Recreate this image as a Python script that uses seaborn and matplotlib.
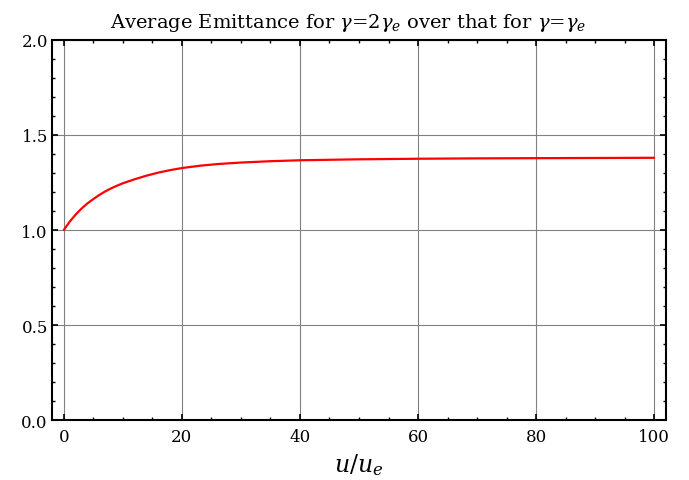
import matplotlib
matplotlib.use("Agg")
import matplotlib.pyplot as plt
from matplotlib.ticker import MultipleLocator
import pandas as pd
import seaborn as sns

# Ratio of average emittance (gamma = 2 gamma_e) to that at gamma = gamma_e
u_over_ue = [0, 1, 2, 3, 4, 5, 6, 7, 8, 9, 10, 12, 14, 16, 18, 20, 23, 26,
             30, 35, 40, 50, 60, 70, 80, 90, 100]
ratio = [1.000, 1.044, 1.081, 1.113, 1.140, 1.163, 1.184, 1.203, 1.219,
         1.233, 1.246, 1.267, 1.286, 1.302, 1.315, 1.326, 1.338, 1.347,
         1.355, 1.362, 1.367, 1.372, 1.375, 1.377, 1.378, 1.379, 1.380]

x_ticks = [0, 20, 40, 60, 80, 100]
y_ticks = [0.0, 0.5, 1.0, 1.5, 2.0]

df = pd.DataFrame({"u": u_over_ue, "ratio": ratio})

sns.set_theme(style="ticks")
plt.rcParams["font.family"] = ["DejaVu Serif"]
plt.rcParams["mathtext.fontset"] = "dejavuserif"
plt.rcParams["text.color"] = "black"

fig = plt.figure(figsize=(6.89, 4.81), dpi=100)
ax = fig.add_axes([0.0755, 0.1247, 0.8911, 0.7901])

sns.lineplot(data=df, x="u", y="ratio", ax=ax, color="#ff0000",
             linewidth=1.6, zorder=3)

ax.set_xlim(-2, 102)
ax.set_ylim(0, 2)
ax.set_xticks(x_ticks)
ax.set_yticks(y_ticks)
ax.set_yticklabels([f"{v:.1f}" for v in y_ticks])
ax.xaxis.set_minor_locator(MultipleLocator(5))
ax.yaxis.set_minor_locator(MultipleLocator(0.1))

ax.grid(True, which="major", color="#808080", linewidth=0.8)
ax.set_axisbelow(True)

for side in ["left", "right", "top", "bottom"]:
    ax.spines[side].set_visible(True)
    ax.spines[side].set_color("black")
    ax.spines[side].set_linewidth(1.5)

ax.tick_params(which="both", direction="in", top=True, right=True,
               colors="black", labelcolor="black", labelsize=12)
ax.tick_params(which="major", length=4, width=1.2)
ax.tick_params(which="minor", length=2.5, width=1.0)
ax.tick_params(axis="y", pad=3)
ax.tick_params(axis="x", pad=6)

ax.set_xlabel(r"$u/u_e$", fontsize=17, labelpad=4, color="black")
ax.set_ylabel("")
ax.set_title(r"Average Emittance for $\gamma$=2$\gamma_e$ over that for $\gamma$=$\gamma_e$",
             fontsize=14, pad=9, color="black", x=0.483)

fig.savefig("out.png", dpi=100)
